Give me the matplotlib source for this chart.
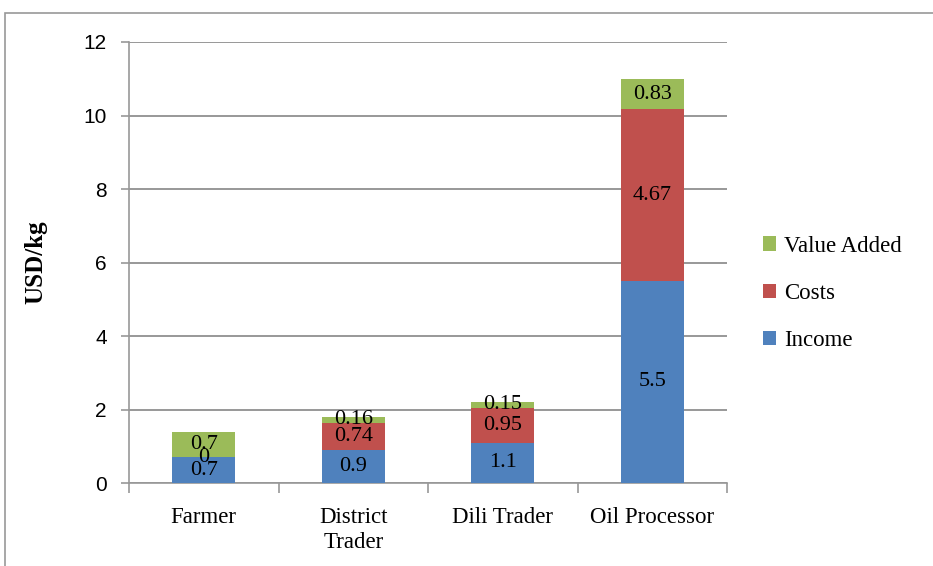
import matplotlib.pyplot as plt
import matplotlib.patches as mpatches
import numpy as np

categories = ["Farmer", "District\nTrader", "Dili Trader", "Oil Processor"]
income = [0.7, 0.9, 1.1, 5.5]
costs = [0, 0.74, 0.95, 4.67]
value_added = [0.7, 0.16, 0.15, 0.83]
yticks = [0, 2, 4, 6, 8, 10, 12]

serif = ["Liberation Serif", "DejaVu Serif"]
sans = ["Liberation Sans Narrow", "Liberation Sans", "DejaVu Sans"]
grey = "#989898"

fig = plt.figure(figsize=(9.33, 5.66), dpi=100)
ax = fig.add_axes([0.1383, 0.1466, 0.6410, 0.7792])

# outer chart frame (cut off on right and bottom)
fig.patches.append(mpatches.Rectangle((5 / 933, -0.05), 1.2, 1 - 13 / 566 + 0.05,
                                      transform=fig.transFigure, fill=False,
                                      edgecolor=grey, linewidth=1.2))

x = np.arange(len(categories))
w = 0.42
series = [("Income", income, "#4F81BD"),
          ("Costs", costs, "#C0504D"),
          ("Value Added", value_added, "#9BBB59")]
bottom = np.zeros(len(categories))
handles = []
for name, vals, col in series:
    vals = np.array(vals)
    b = ax.bar(x, vals, w, bottom=bottom, color=col, label=name, zorder=3)
    handles.append(b)
    for xi, v, b0 in zip(x, vals, bottom):
        ax.text(xi, b0 + v / 2, f"{v:g}", ha="center", va="center",
                fontsize=16, family=serif, color="black", zorder=4)
    bottom += vals

ax.set_xlim(-0.5, len(categories) - 0.5)
ax.set_ylim(0, 12)
ax.set_yticks(yticks)
ax.set_yticklabels([str(t) for t in yticks], family=sans, fontsize=15)
ax.yaxis.grid(True, color=grey, linewidth=1.4, zorder=0)
ax.set_axisbelow(True)

ax.set_xticks(np.arange(len(categories) + 1) - 0.5)
ax.set_xticklabels([])
ax.set_xticks(x, minor=True)
ax.set_xticklabels(categories, minor=True, family=serif, fontsize=16.5,
                   linespacing=1.3)
ax.tick_params(axis="x", which="minor", length=0, pad=17)
ax.tick_params(axis="x", which="major", length=7, color=grey, width=1.2)
ax.tick_params(axis="y", length=6, color=grey, width=1.2, pad=10)

for s in ["top", "right"]:
    ax.spines[s].set_visible(False)
for s in ["left", "bottom"]:
    ax.spines[s].set_color(grey)
    ax.spines[s].set_linewidth(1.2)

ax.set_ylabel("USD/kg", family=serif, fontsize=18, fontweight="bold", labelpad=26)

leg = ax.legend(handles[::-1], [h.get_label() for h in handles[::-1]],
                loc="center left", bbox_to_anchor=(1.025, 0.43), frameon=False,
                prop={"family": serif, "size": 16.5}, handlelength=0.6,
                handleheight=0.6, handletextpad=0.35, labelspacing=1.15)

fig.savefig("out.png", dpi=100)
